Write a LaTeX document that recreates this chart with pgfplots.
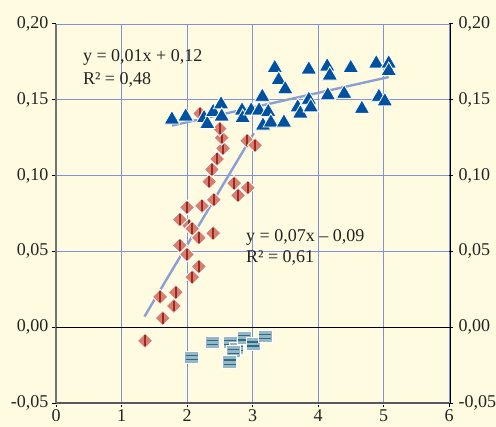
\documentclass[border=0pt]{standalone}
\usepackage{fontspec}
\setmainfont{Liberation Serif}
\usepackage{pgfplots}
\pgfplotsset{compat=1.18}
\definecolor{bg}{RGB}{254,251,224}
\definecolor{gridc}{RGB}{128,146,222}
\definecolor{trend}{RGB}{140,158,214}
\definecolor{diamf}{RGB}{212,128,110}
\definecolor{diaml}{RGB}{160,38,30}
\definecolor{trif}{RGB}{0,82,160}
\definecolor{sqf}{RGB}{150,184,198}
\definecolor{sql}{RGB}{45,108,128}
\definecolor{txt}{RGB}{35,35,35}

\pgfdeclareplotmark{rdiam}{%
  \pgfpathmoveto{\pgfqpoint{0pt}{\pgfplotmarksize}}%
  \pgfpathlineto{\pgfqpoint{\pgfplotmarksize}{0pt}}%
  \pgfpathlineto{\pgfqpoint{0pt}{-\pgfplotmarksize}}%
  \pgfpathlineto{\pgfqpoint{-\pgfplotmarksize}{0pt}}%
  \pgfpathclose
  \pgfusepathqfillstroke
  \pgfscope
  \pgfsetstrokecolor{diaml}\pgfsetlinewidth{1.8pt}%
  \pgfpathmoveto{\pgfqpoint{0pt}{0.72\pgfplotmarksize}}%
  \pgfpathlineto{\pgfqpoint{0pt}{-0.72\pgfplotmarksize}}%
  \pgfusepathqstroke
  \endpgfscope
}
\pgfdeclareplotmark{bsq}{%
  \pgfpathmoveto{\pgfqpoint{-\pgfplotmarksize}{-0.9\pgfplotmarksize}}%
  \pgfpathlineto{\pgfqpoint{\pgfplotmarksize}{-0.9\pgfplotmarksize}}%
  \pgfpathlineto{\pgfqpoint{\pgfplotmarksize}{0.9\pgfplotmarksize}}%
  \pgfpathlineto{\pgfqpoint{-\pgfplotmarksize}{0.9\pgfplotmarksize}}%
  \pgfpathclose
  \pgfusepathqfillstroke
  \pgfscope
  \pgfsetstrokecolor{sql}\pgfsetlinewidth{1.3pt}%
  \pgfpathmoveto{\pgfqpoint{-0.85\pgfplotmarksize}{0.28\pgfplotmarksize}}%
  \pgfpathlineto{\pgfqpoint{0.85\pgfplotmarksize}{0.28\pgfplotmarksize}}%
  \pgfpathmoveto{\pgfqpoint{-0.85\pgfplotmarksize}{-0.32\pgfplotmarksize}}%
  \pgfpathlineto{\pgfqpoint{0.85\pgfplotmarksize}{-0.32\pgfplotmarksize}}%
  \pgfusepathqstroke
  \endpgfscope
}

\begin{document}
\begin{tikzpicture}
\fill[bg] (-56bp,-24bp) rectangle (440bp,403bp);
\begin{axis}[
  at={(0,0)}, anchor=south west,
  scale only axis, width=393bp, height=379bp,
  xmin=0, xmax=6, ymin=-0.05, ymax=0.2,
  xtick={0,1,2,3,4,5,6},
  ytick={-0.05,0,0.05,0.1,0.15,0.2},
  grid=major, major grid style={gridc, line width=0.9pt},
  axis line style={draw=none},
  axis background/.style={fill=bg},
  xtick pos=bottom, ytick pos=left,
  tick align=outside, major tick length=4bp,
  tick style={black, line width=1pt},
  /pgf/number format/assume math mode=true,
  tick label style={font=\fontsize{18bp}{20bp}\selectfont, text=txt},
  xticklabel style={yshift=0.5bp},
  yticklabel style={/pgf/number format/.cd, fixed, fixed zerofill, precision=2, use comma},
  clip=false,
]
\draw[white, line width=1.4pt] ([yshift=-1.2bp]axis cs:0,-0.05) -- ([yshift=-1.2bp]axis cs:6,-0.05);
\draw[black!65, line width=1.3pt] (axis cs:0,-0.05) -- (axis cs:6,-0.05);
\draw[black!55, line width=1.6pt] (axis cs:0,-0.05) -- (axis cs:0,0.2);
\draw[black, line width=1.3pt] ([xshift=1.5bp]axis cs:6,-0.05) -- ([xshift=1.5bp]axis cs:6,0.2);
\draw[black, line width=1.3pt] (axis cs:0,0) -- (axis cs:6,0);

% trend lines
\addplot[trend, line width=2.4pt] coordinates {(1.35,0.007) (3.02,0.128)};
\addplot[trend, line width=2.4pt] coordinates {(1.77,0.133) (5.08,0.165)};

% squares
\addplot[only marks, mark=bsq, mark size=7bp, mark options={fill=sqf, draw=white, line width=0.8pt}] coordinates {
(2.07,-0.020) (2.39,-0.010) (2.66,-0.010) (2.76,-0.014) (2.71,-0.016)
(2.65,-0.023) (2.87,-0.007) (3.01,-0.011) (3.19,-0.006)
};

% diamonds
\addplot[only marks, mark=rdiam, mark size=7.6bp, mark options={fill=diamf, draw=white, line width=0.8pt}] coordinates {
(1.36,-0.009) (1.59,0.020) (1.63,0.006) (1.80,0.014) (1.83,0.023)
(2.08,0.033) (2.18,0.040) (2.00,0.048) (1.89,0.054) (2.18,0.059)
(2.40,0.062) (2.03,0.067) (2.08,0.065) (1.89,0.071) (2.00,0.079)
(2.23,0.080) (2.41,0.084) (2.34,0.096) (2.38,0.104) (2.46,0.111)
(2.55,0.118) (2.53,0.125) (2.50,0.131) (2.72,0.095) (2.78,0.087)
(2.93,0.092) (2.92,0.123) (3.04,0.120) (2.20,0.141)
};

% triangles
\addplot[only marks, mark=triangle*, mark size=9bp, mark options={fill=trif, draw=white, line width=0.8pt}] coordinates {
(1.77,0.137) (1.98,0.139) (2.26,0.138) (2.31,0.134) (2.40,0.142)
(2.52,0.147) (2.53,0.139) (2.84,0.143) (2.85,0.138)
(3.34,0.171) (3.40,0.163) (3.50,0.157) (3.15,0.152) (2.98,0.143)
(3.10,0.143) (3.24,0.142) (3.16,0.133) (3.28,0.135) (3.48,0.135)
(3.69,0.145) (3.73,0.141) (3.86,0.150) (3.89,0.145) (3.86,0.170)
(4.14,0.172) (4.18,0.166) (4.15,0.153) (4.40,0.154) (4.50,0.171)
(4.67,0.144) (4.89,0.174) (5.08,0.174) (5.08,0.169) (4.93,0.152)
(5.02,0.149)
};

\node[anchor=west, inner sep=0, text=txt, font=\fontsize{18bp}{20bp}\selectfont] at (axis cs:0.41,0.1776) {y = 0,01x + 0,12};
\node[anchor=west, inner sep=0, text=txt, font=\fontsize{18bp}{20bp}\selectfont] at (axis cs:0.41,0.1632) {R² = 0,48};
\node[anchor=west, inner sep=0, text=txt, font=\fontsize{18bp}{20bp}\selectfont] at (axis cs:2.90,0.0594) {y = 0,07x – 0,09};
\node[anchor=west, inner sep=0, text=txt, font=\fontsize{18bp}{20bp}\selectfont] at (axis cs:2.90,0.0460) {R² = 0,61};
\end{axis}

\begin{axis}[
  at={(0,0)}, anchor=south west,
  scale only axis, width=393bp, height=379bp,
  xmin=0, xmax=6, ymin=-0.05, ymax=0.2,
  hide x axis,
  axis line style={draw=none},
  ytick={-0.05,0,0.05,0.1,0.15,0.2},
  ytick pos=right, yticklabel pos=right,
  tick align=outside, major tick length=4bp,
  tick style={black, line width=1pt},
  /pgf/number format/assume math mode=true,
  tick label style={font=\fontsize{18bp}{20bp}\selectfont, text=txt},
  yticklabel style={xshift=2bp, /pgf/number format/.cd, fixed, fixed zerofill, precision=2, use comma},
]
\addplot[draw=none] coordinates {(0,0)};
\end{axis}
\pgfresetboundingbox
\path[use as bounding box] (-56bp,-24bp) rectangle (440bp,403bp);
\end{tikzpicture}
\end{document}
